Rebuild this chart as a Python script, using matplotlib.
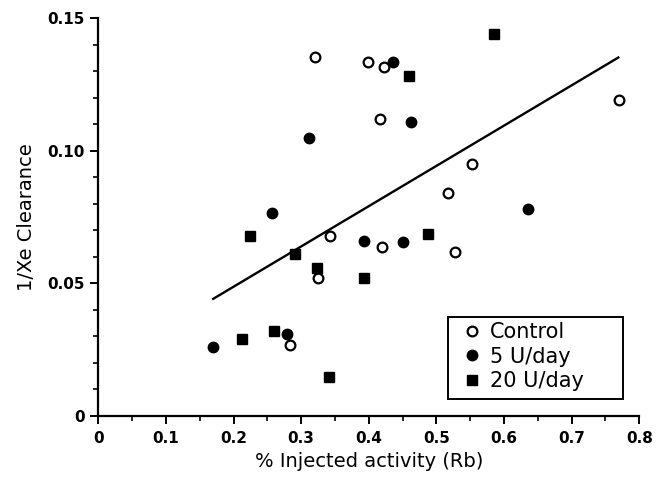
import matplotlib
matplotlib.use("Agg")
import matplotlib.pyplot as plt
from matplotlib.patches import Rectangle
from matplotlib.ticker import MultipleLocator

# Control (open circles)
ctrl_x = [0.321, 0.399, 0.422, 0.416, 0.770, 0.553, 0.517, 0.342, 0.325, 0.419, 0.527, 0.284]
ctrl_y = [0.1355, 0.1337, 0.1316, 0.1121, 0.1192, 0.0950, 0.0842, 0.0679, 0.0520, 0.0638, 0.0618, 0.0269]

# 5 U/day (filled circles)
u5_x = [0.311, 0.257, 0.436, 0.462, 0.635, 0.393, 0.450, 0.170, 0.279]
u5_y = [0.1050, 0.0765, 0.1337, 0.1110, 0.0781, 0.0659, 0.0658, 0.0262, 0.0308]

# 20 U/day (filled squares)
u20_x = [0.585, 0.459, 0.224, 0.291, 0.324, 0.393, 0.487, 0.213, 0.260, 0.341]
u20_y = [0.1440, 0.1284, 0.0679, 0.0610, 0.0560, 0.0520, 0.0687, 0.0289, 0.0320, 0.0148]

# regression line end points
line_x = [0.170, 0.769]
line_y = [0.0442, 0.1352]

xticks = [0, 0.1, 0.2, 0.3, 0.4, 0.5, 0.6, 0.7, 0.8]
xtick_labels = ['0', '0.1', '0.2', '0.3', '0.4', '0.5', '0.6', '0.7', '0.8']
yticks = [0, 0.05, 0.10, 0.15]
ytick_labels = ['0', '0.05', '0.10', '0.15']

plt.rcParams['font.family'] = ['DejaVu Sans']

fig = plt.figure(figsize=(6.57, 4.79), dpi=100)
ax = fig.add_axes([0.1496, 0.1315, 0.8234, 0.8303])

ax.plot(line_x, line_y, color='black', lw=1.7, zorder=1)
ax.plot(ctrl_x, ctrl_y, 'o', ms=7, mfc='white', mec='black', mew=1.6, label='Control', zorder=3)
ax.plot(u5_x, u5_y, 'o', ms=7.5, color='black', label='5 U/day', zorder=3)
ax.plot(u20_x, u20_y, 's', ms=7, color='black', label='20 U/day', zorder=3)

ax.set_xlim(0, 0.8)
ax.set_ylim(0, 0.15)
ax.xaxis.set_minor_locator(MultipleLocator(0.05))
ax.yaxis.set_minor_locator(MultipleLocator(0.01))
ax.set_xticks(xticks)
ax.set_xticklabels(xtick_labels)
ax.set_yticks(yticks)
ax.set_yticklabels(ytick_labels)

ax.spines['top'].set_visible(False)
ax.spines['right'].set_visible(False)
ax.spines['left'].set_linewidth(1.6)
ax.spines['bottom'].set_linewidth(1.6)
ax.tick_params(which='major', length=6, width=1.4, labelsize=11, direction='out')
ax.tick_params(axis='y', which='major', pad=3.5)
ax.tick_params(axis='x', which='major', pad=5)
ax.tick_params(which='minor', length=3.5, width=1.2, direction='out')
for t in ax.get_xticklabels() + ax.get_yticklabels():
    t.set_fontweight('bold')

ax.set_xlabel('% Injected activity (Rb)', fontsize=14, labelpad=4)
ax.set_ylabel('1/Xe Clearance', fontsize=14, labelpad=8)

# legend without its own frame; the box is drawn separately (wide right margin)
leg = ax.legend(loc='center', bbox_to_anchor=(0.783, 0.149), fontsize=15,
                frameon=False, handletextpad=0.25, borderpad=0,
                labelspacing=0.22, handlelength=1.2, borderaxespad=0)
ax.add_patch(Rectangle((0.646, 0.043), 0.324, 0.206, transform=ax.transAxes,
                       fill=False, edgecolor='black', lw=1.4, zorder=4))

fig.savefig('out.png', dpi=100)
